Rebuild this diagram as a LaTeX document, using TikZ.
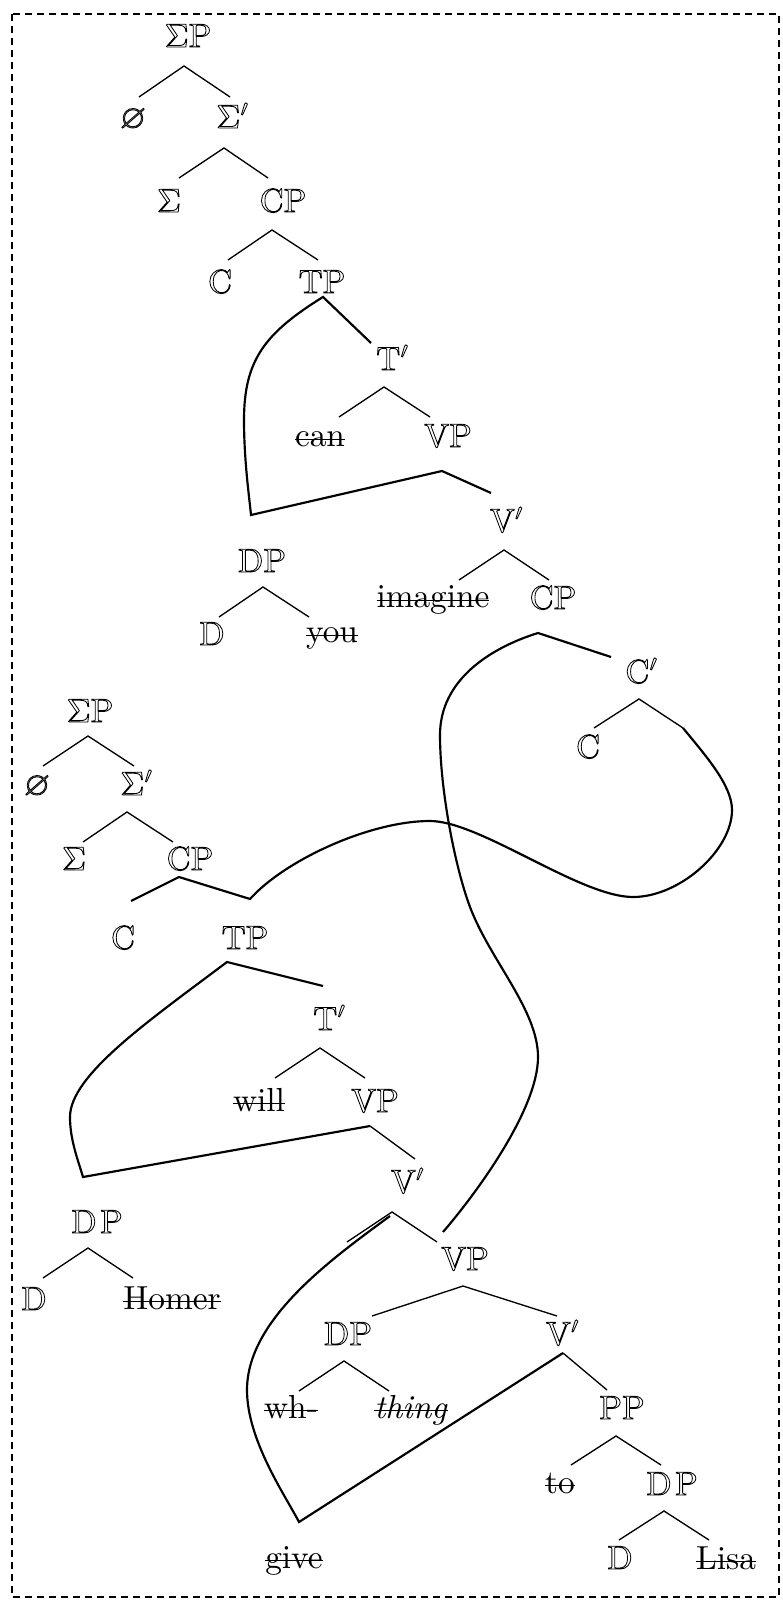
\documentclass[tikz,border=0pt]{standalone}
\usepackage{amssymb}
\newsavebox\strikebox
\newcommand\struck[1]{\sbox\strikebox{#1}\rlap{\usebox\strikebox}\rule[2pt]{\wd\strikebox}{0.45pt}}
\tikzset{
  lab/.style={inner sep=0pt, anchor=base, font=\fontsize{10}{12}\selectfont},
  cat/.style={lab,
    execute at begin node={\special{pdf:literal direct 1 Tr 0.25 w}},
    execute at end node={\special{pdf:literal direct 0 Tr}}},
  word/.style={lab},
  branch/.style={line width=0.4pt},
  link/.style={line width=0.65pt},
  frame/.style={line width=0.45pt, dash pattern=on 2pt off 1.6pt}
}
\begin{document}
\begin{tikzpicture}[x=0.3pt,y=-0.3pt]
\useasboundingbox (0,0) rectangle (783,1606);
\draw[frame] (12,14) rectangle (779,1597);
% upper tree
\node[cat] (sp1) at (188,47) {$\Sigma$P};
\node[cat] (null1) at (133,128) {$\varnothing$};
\node[cat] (sb1) at (233,128) {$\Sigma'$};
\node[cat] (sig1) at (169,212) {$\Sigma$};
\node[cat] (cp1) at (283,212) {CP};
\node[cat] (c1) at (220,293) {C};
\node[cat] (tp1) at (322,293) {TP};
\node[cat] (tb1) at (393,370) {T$'$};
\node[word] (can) at (320,447) {\struck{can}};
\node[cat] (vp1) at (448,447) {VP};
\node[cat] (vb1) at (507,532) {V$'$};
\node[cat] (dp1) at (262,572) {DP};
\node[cat] (d1) at (212,645) {D};
\node[word] (you) at (332,643) {\struck{you}};
\node[word] (imagine) at (433,608) {\struck{imagine}};
\node[cat] (cp2) at (553,609) {CP};
\node[cat] (cb1) at (642,683) {C$'$};
\node[cat] (c2) at (588,758) {C};
% lower tree
\node[cat] (sp2) at (90,722) {$\Sigma$P};
\node[cat] (null2) at (37,795) {$\varnothing$};
\node[cat] (sb2) at (137,795) {$\Sigma'$};
\node[cat] (sig2) at (74,870) {$\Sigma$};
\node[cat] (cp3) at (190,870) {CP};
\node[cat] (c3) at (123,949) {C};
\node[cat] (tp2) at (245,949) {TP};
\node[cat] (tb2) at (330,1030) {T$'$};
\node[word] (will) at (259,1111) {\struck{will}};
\node[cat] (vp2) at (375,1112) {VP};
\node[cat] (vb2) at (408,1193) {V$'$};
\node[cat] (dp2) at (97,1233) {D\kern1pt P};
\node[cat] (d2) at (34,1310) {D};
\node[word] (homer) at (172,1309) {\struck{Homer}};
\node[cat] (vp3) at (465,1270) {VP};
\node[cat] (dp3) at (348,1345) {DP};
\node[cat] (vb3) at (563,1345) {V$'$};
\node[word] (wh) at (291,1418) {\struck{wh-}};
\node[word] (thing) at (411,1418) {\struck{\textit{thing}}};
\node[cat] (pp) at (622,1419) {PP};
\node[word] (to) at (560,1493) {\struck{to}};
\node[cat] (dp4) at (672,1495) {D\kern1pt P};
\node[cat] (d3) at (620,1569) {D};
\node[word] (lisa) at (726,1569) {\struck{Lisa}};
\node[word] (give) at (294,1568) {\struck{give}};
% branch points, upper tree
\coordinate (sp1A) at (184,66); \coordinate (sp1L) at (139,97); \coordinate (sp1R) at (230,97);
\coordinate (sb1A) at (224,148); \coordinate (sb1L) at (179,178); \coordinate (sb1R) at (268,178);
\coordinate (cp1A) at (272,230); \coordinate (cp1L) at (228,260); \coordinate (cp1R) at (318,260);
\coordinate (tp1A) at (323,297); \coordinate (tp1R) at (371,343);
\coordinate (tb1A) at (384,387); \coordinate (tb1L) at (339,417); \coordinate (tb1R) at (430,417);
\coordinate (vp1A) at (442,471); \coordinate (vp1R) at (491,493); \coordinate (dp1T) at (251,515);
\coordinate (vb1A) at (504,550); \coordinate (vb1L) at (459,580); \coordinate (vb1R) at (549,580);
\coordinate (dp1A) at (263,587); \coordinate (dp1L) at (219,617); \coordinate (dp1R) at (309,617);
\coordinate (cp2A) at (538,633); \coordinate (cp2R) at (611,657);
\coordinate (cb1A) at (639,699); \coordinate (cb1L) at (594,728); \coordinate (cb1R) at (683,728);
% branch points, lower tree
\coordinate (sp2A) at (88,736); \coordinate (sp2L) at (43,766); \coordinate (sp2R) at (134,766);
\coordinate (sb2A) at (127,812); \coordinate (sb2L) at (83,842); \coordinate (sb2R) at (173,842);
\coordinate (cp3A) at (179,877); \coordinate (cp3L) at (131,901); \coordinate (tp2T) at (250,899);
\coordinate (tp2A) at (227,962); \coordinate (tp2R) at (323,986);
\coordinate (tb2A) at (320,1048); \coordinate (tb2L) at (275,1078); \coordinate (tb2R) at (365,1078);
\coordinate (vp2A) at (370,1126); \coordinate (vp2R) at (415,1159); \coordinate (dp2T) at (83,1177);
\coordinate (vb2A) at (392,1212); \coordinate (vb2L) at (347,1242); \coordinate (vb2R) at (437,1242);
\coordinate (vb2C) at (390,1216);
\coordinate (dp2A) at (88,1248); \coordinate (dp2L) at (43,1278); \coordinate (dp2R) at (133,1278);
\coordinate (vp3T) at (443,1232);
\coordinate (vp3A) at (463,1286); \coordinate (vp3L) at (372,1316); \coordinate (vp3R) at (557,1316);
\coordinate (dp3A) at (344,1361); \coordinate (dp3L) at (299,1391); \coordinate (dp3R) at (389,1391);
\coordinate (vb3A) at (563,1353); \coordinate (vb3R) at (607,1390);
\coordinate (ppA) at (616,1436); \coordinate (ppL) at (571,1465); \coordinate (ppR) at (661,1465);
\coordinate (dp4A) at (664,1511); \coordinate (dp4L) at (619,1540); \coordinate (dp4R) at (709,1540);
\coordinate (giveT) at (299,1522);
% plain branches
\draw[branch] (sp1L) -- (sp1A) -- (sp1R);
\draw[branch] (sb1L) -- (sb1A) -- (sb1R);
\draw[branch] (cp1L) -- (cp1A) -- (cp1R);
\draw[branch] (tb1L) -- (tb1A) -- (tb1R);
\draw[branch] (vb1L) -- (vb1A) -- (vb1R);
\draw[branch] (dp1L) -- (dp1A) -- (dp1R);
\draw[branch] (cb1L) -- (cb1A) -- (cb1R);
\draw[branch] (sp2L) -- (sp2A) -- (sp2R);
\draw[branch] (sb2L) -- (sb2A) -- (sb2R);
\draw[branch] (tb2L) -- (tb2A) -- (tb2R);
\draw[branch] (vp2A) -- (vp2R);
\draw[branch] (vb2L) -- (vb2A) -- (vb2R);
\draw[branch] (dp2L) -- (dp2A) -- (dp2R);
\draw[branch] (vp3L) -- (vp3A) -- (vp3R);
\draw[branch] (dp3L) -- (dp3A) -- (dp3R);
\draw[branch] (vb3A) -- (vb3R);
\draw[branch] (ppL) -- (ppA) -- (ppR);
\draw[branch] (dp4L) -- (dp4A) -- (dp4R);
% shared constituents
\draw[link] (tp1R) -- (tp1A) .. controls (265,333) and (244,360) .. (244,420)
  .. controls (244,460) and (249,495) .. (dp1T) -- (vp1A) -- (vp1R);
\draw[link] (cp2R) -- (cp2A) .. controls (490,648) and (440,680) .. (440,735)
  .. controls (440,790) and (455,867) .. (470,907)
  .. controls (490,960) and (538,1010) .. (538,1057)
  .. controls (538,1110) and (475,1195) .. (vp3T);
\draw[link] (cp3L) -- (cp3A) -- (tp2T) .. controls (285,860) and (370,821) .. (430,821)
  .. controls (480,821) and (580,897) .. (633,897)
  .. controls (680,897) and (732,850) .. (732,810)
  .. controls (732,785) and (705,755) .. (cb1R);
\draw[link] (tp2R) -- (tp2A) .. controls (150,1020) and (70,1075) .. (70,1117)
  .. controls (70,1140) and (78,1160) .. (dp2T) -- (vp2A);
\draw[link] (vb2C) .. controls (330,1260) and (247,1320) .. (247,1390)
  .. controls (247,1440) and (285,1495) .. (giveT) -- (vb3A);
\end{tikzpicture}
\end{document}
